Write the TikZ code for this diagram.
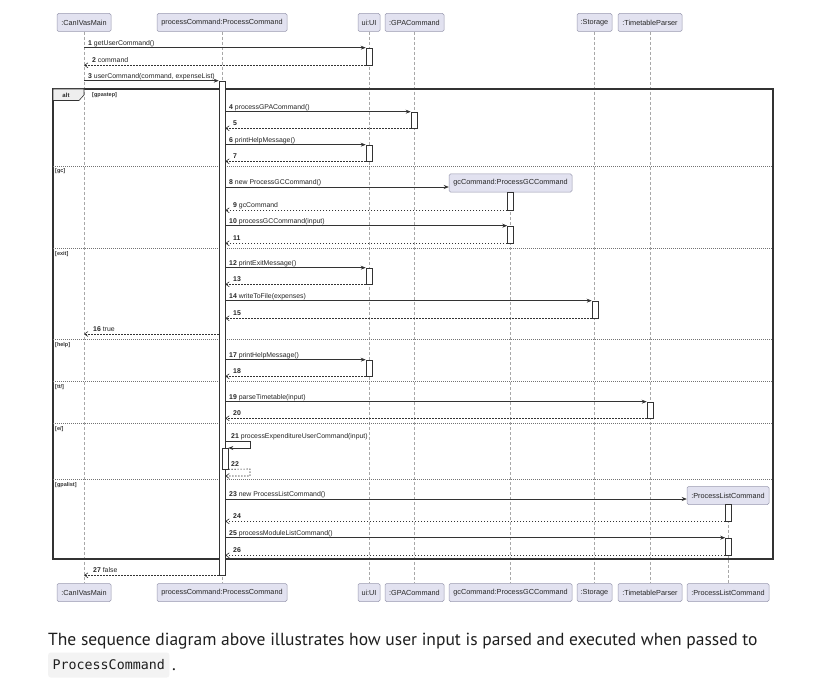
\documentclass[tikz,border=0pt]{standalone}
\usepackage{fontspec}
\setmainfont{Liberation Sans}
\newfontfamily\capfont{PT Sans}
\newfontfamily\codefont{DejaVu Sans Mono}
\usetikzlibrary{arrows.meta,calc}
\definecolor{partfill}{HTML}{E2E2F0}
\definecolor{partborder}{HTML}{9A9AB0}
\definecolor{lifec}{HTML}{A8A8A8}
\definecolor{linec}{HTML}{333333}
\definecolor{framec}{HTML}{333333}
\definecolor{tabfill}{HTML}{EEEEEE}
\definecolor{codebg}{HTML}{F3F3F3}
\definecolor{captext}{HTML}{1F1F1F}
\tikzset{
  part/.style={draw=partborder, fill=partfill, line width=0.5pt, rounded corners=1.5pt,
    font=\fontsize{7.3}{8}\selectfont, inner sep=0pt, minimum height=18pt, text=black!85},
  life/.style={draw=lifec, line width=0.5pt, dash pattern=on 3pt off 2pt},
  actbox/.style={draw=linec, fill=white, line width=0.6pt, minimum width=6pt, inner sep=0pt},
  call/.style={draw=linec, line width=0.6pt, -{Stealth[length=5pt,width=4pt]}},
  ret/.style={draw=linec, line width=0.6pt, dash pattern=on 1.5pt off 1.5pt, -{Straight Barb[length=3.5pt,width=5pt]}},
  lbl/.style={font=\fontsize{6.9}{8}\selectfont, inner sep=0pt, anchor=base west, text=black!85},
  guard/.style={font=\fontsize{5.5}{6}\selectfont\bfseries, inner sep=0pt, anchor=base west, text=black!80},
  sep/.style={draw=black!55, line width=0.5pt, dash pattern=on 1pt off 1pt},
}
\newcommand\actnode[4]{\node[actbox, minimum height={#4-#3}] (#1) at (#2,{(#3+#4)/2}) {};}
\begin{document}
\begin{tikzpicture}[x=1pt,y=-1pt]
\useasboundingbox[fill=white] (0,0) rectangle (813,687);

% participants top
\node[part, minimum width=54pt]  (mainT) at (84,22.5) {:CanIVasMain};
\node[part, minimum width=130pt] (pcT)   at (222,22.5) {processCommand:ProcessCommand};
\node[part, minimum width=22pt]  (uiT)   at (369,22.5) {ui:UI};
\node[part, minimum width=59pt]  (gpaT)  at (414.5,22.5) {:GPACommand};
\node[part, minimum width=35pt]  (stT)   at (594.5,22.5) {:Storage};
\node[part, minimum width=64pt]  (ttT)   at (650,22.5) {:TimetableParser};
% created participants
\node[part, minimum width=123pt] (gcT)   at (510.5,183) {gcCommand:ProcessGCCommand};
\node[part, minimum width=82pt]  (plcT)  at (728,495.5) {:ProcessListCommand};
% participants bottom
\node[part, minimum width=54pt]  (mainB) at (84,592.5) {:CanIVasMain};
\node[part, minimum width=130pt] (pcB)   at (222,592.5) {processCommand:ProcessCommand};
\node[part, minimum width=22pt]  (uiB)   at (369,592.5) {ui:UI};
\node[part, minimum width=59pt]  (gpaB)  at (414.5,592.5) {:GPACommand};
\node[part, minimum width=123pt] (gcB)   at (510.5,592.5) {gcCommand:ProcessGCCommand};
\node[part, minimum width=35pt]  (stB)   at (594.5,592.5) {:Storage};
\node[part, minimum width=64pt]  (ttB)   at (650,592.5) {:TimetableParser};
\node[part, minimum width=82pt]  (plcB)  at (728,592.5) {:ProcessListCommand};

% lifelines
\draw[life] (mainT) -- (mainB);
\draw[life] (pcT) -- (pcB);
\draw[life] (uiT) -- (uiB);
\draw[life] (gpaT) -- (gpaB);
\draw[life] (stT) -- (stB);
\draw[life] (ttT) -- (ttB);
\draw[life] (gcT) -- (gcB);
\draw[life] (plcT) -- (plcB);

% alt frame
\draw[framec, line width=1.1pt] (53,89) rectangle (773,559);
\draw[framec, line width=0.6pt, fill=tabfill] (53,89) -- (84,89) -- (84,95) -- (79,100.5) -- (53,100.5) -- cycle;
\node[font=\fontsize{6}{7}\selectfont\bfseries, inner sep=0pt, text=black!85] (altlbl) at (66,95) {alt};
\node[guard] (g1) at (92,97) {[gpastep]};
\draw[sep] (53,166) -- (773,166);
\node[guard] (g2) at (55,173) {[gc]};
\draw[sep] (53,248) -- (773,248);
\node[guard] (g3) at (55,255) {[exit]};
\draw[sep] (53,339) -- (773,339);
\node[guard] (g4) at (55,346) {[help]};
\draw[sep] (53,381) -- (773,381);
\node[guard] (g5) at (55,388) {[tt/]};
\draw[sep] (53,423) -- (773,423);
\node[guard] (g6) at (55,430) {[e/]};
\draw[sep] (53,479) -- (773,479);
\node[guard] (g7) at (55,486) {[gpalist]};

% activations
\actnode{pcA}{222}{81}{575}
\actnode{uiA1}{369}{48}{65}
\actnode{gpaA}{414}{112}{128}
\actnode{uiA2}{369}{145}{161}
\actnode{gcA1}{510.5}{192}{210}
\actnode{gcA2}{510.5}{226}{243}
\actnode{uiA3}{369}{268}{284}
\actnode{stA}{595}{301}{318}
\actnode{uiA4}{369}{360}{376}
\actnode{ttA}{650}{402}{418}
\actnode{pcA2}{225}{448}{469}
\actnode{plcA1}{728.5}{504}{521}
\actnode{plcA2}{728.5}{538}{555}

% messages
\draw[call] (mainT |- uiA1.north west) -- (uiA1.north west);
\node[lbl] (m1) at (88,45.5) {\textbf{1} getUserCommand()};
\draw[ret] (uiA1.south west) -- (mainT |- uiA1.south west);
\node[lbl] (m2) at (92,62.5) {\textbf{2} command};
\draw[call] (mainT |- pcA.north west) -- (pcA.north west);
\node[lbl] (m3) at (88,78.5) {\textbf{3} userCommand(command, expenseList)};

\draw[call] (pcA.east |- gpaA.north west) -- (gpaA.north west);
\node[lbl] (m4) at (229,109.5) {\textbf{4} processGPACommand()};
\draw[ret] (gpaA.south west) -- (pcA.east |- gpaA.south west);
\node[lbl] (m5) at (233,125.5) {\textbf{5}};
\draw[call] (pcA.east |- uiA2.north west) -- (uiA2.north west);
\node[lbl] (m6) at (229,142.5) {\textbf{6} printHelpMessage()};
\draw[ret] (uiA2.south west) -- (pcA.east |- uiA2.south west);
\node[lbl] (m7) at (233,158.5) {\textbf{7}};

\draw[call] (pcA.east |- 0,187) -- (gcT.west |- 0,187);
\node[lbl] (m8) at (229,184.5) {\textbf{8} new ProcessGCCommand()};
\draw[ret] (gcA1.south west) -- (pcA.east |- gcA1.south west);
\node[lbl] (m9) at (233,207) {\textbf{9} gcCommand};
\draw[call] (pcA.east |- gcA2.north west) -- (gcA2.north west);
\node[lbl] (m10) at (229,223.5) {\textbf{10} processGCCommand(input)};
\draw[ret] (gcA2.south west) -- (pcA.east |- gcA2.south west);
\node[lbl] (m11) at (233,240) {\textbf{11}};

\draw[call] (pcA.east |- uiA3.north west) -- (uiA3.north west);
\node[lbl] (m12) at (229,265.5) {\textbf{12} printExitMessage()};
\draw[ret] (uiA3.south west) -- (pcA.east |- uiA3.south west);
\node[lbl] (m13) at (233,281.5) {\textbf{13}};
\draw[call] (pcA.east |- stA.north west) -- (stA.north west);
\node[lbl] (m14) at (229,298.5) {\textbf{14} writeToFile(expenses)};
\draw[ret] (stA.south west) -- (pcA.east |- stA.south west);
\node[lbl] (m15) at (233,315.5) {\textbf{15}};
\draw[ret] (pcA.west |- 0,334) -- (mainT |- 0,334);
\node[lbl] (m16) at (93,331) {\textbf{16} true};

\draw[call] (pcA.east |- uiA4.north west) -- (uiA4.north west);
\node[lbl] (m17) at (229,357.5) {\textbf{17} printHelpMessage()};
\draw[ret] (uiA4.south west) -- (pcA.east |- uiA4.south west);
\node[lbl] (m18) at (233,373.5) {\textbf{18}};

\draw[call] (pcA.east |- ttA.north west) -- (ttA.north west);
\node[lbl] (m19) at (229,399.5) {\textbf{19} parseTimetable(input)};
\draw[ret] (ttA.south west) -- (pcA.east |- ttA.south west);
\node[lbl] (m20) at (233,415.5) {\textbf{20}};

\draw[call] (pcA.east |- 0,441) -- (250,441) |- (pcA2.east |- 0,448);
\node[lbl] (m21) at (231,438.5) {\textbf{21} processExpenditureUserCommand(input)};
\draw[ret] (pcA2.south east) -- (250,469) |- (pcA.east |- 0,476);
\node[lbl] (m22) at (231,466.5) {\textbf{22}};

\draw[call] (pcA.east |- 0,499) -- (plcT.west |- 0,499);
\node[lbl] (m23) at (229,496.5) {\textbf{23} new ProcessListCommand()};
\draw[ret] (plcA1.south west) -- (pcA.east |- plcA1.south west);
\node[lbl] (m24) at (233,518.5) {\textbf{24}};
\draw[call] (pcA.east |- plcA2.north west) -- (plcA2.north west);
\node[lbl] (m25) at (229,535.5) {\textbf{25} processModuleListCommand()};
\draw[ret] (plcA2.south west) -- (pcA.east |- plcA2.south west);
\node[lbl] (m26) at (233,552.5) {\textbf{26}};

\draw[ret] (pcA.south west) -- (mainT |- pcA.south west);
\node[lbl] (m27) at (93,572.5) {\textbf{27} false};

% caption
\node[font=\capfont\fontsize{17.5}{22}\selectfont, text=captext, inner sep=0pt, anchor=base west] (cap1) at (48,645.7)
  {The sequence diagram above illustrates how user input is parsed and executed when passed to};
\node[fill=codebg, rounded corners=2.5pt, inner xsep=4.5pt, inner ysep=0pt, minimum height=25pt, anchor=west,
      font=\codefont\fontsize{13.3}{15}\selectfont, text=captext] (code) at (48,665) {ProcessCommand};
\node[font=\capfont\fontsize{17.5}{22}\selectfont, text=captext, inner sep=0pt, anchor=base west] (dot) at ([xshift=2.5pt]code.east |- 0,670) {.};
\end{tikzpicture}
\end{document}
